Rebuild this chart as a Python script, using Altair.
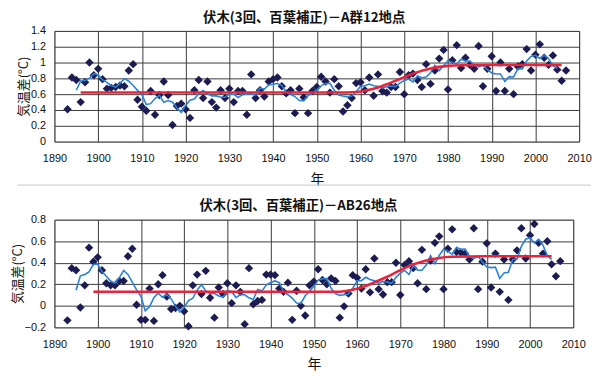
import altair as alt
import pandas as pd

years = list(range(1893, 2008))

vals_a = [0.41, 0.81, 0.78, 0.50, 0.75, 1.00, 0.84, 0.92, 0.79, 0.67,
          0.68, 0.69, 0.71, 0.70, 0.90, 0.98, 0.53, 0.44, 0.39, 0.64,
          0.34, 0.59, 0.76, 0.59, 0.21, 0.45, 0.48, 0.41, 0.30, 0.65,
          0.78, 0.55, 0.76, 0.50, 0.43, 0.65, 0.55, 0.67, 0.50, 0.64,
          0.64, 0.34, 0.85, 0.55, 0.65, 0.57, 0.76, 0.79, 0.81, 0.70,
          0.61, 0.65, 0.36, 0.67, 0.56, 0.36, 0.64, 0.69, 0.82, 0.76,
          0.62, 0.79, 0.70, 0.38, 0.46, 0.55, 0.74, 0.75, 0.65, 0.81,
          0.58, 0.85, 0.64, 0.62, 0.69, 0.69, 0.88, 0.60, 0.84, 0.86,
          0.78, 0.69, 0.98, 0.73, 0.90, 1.05, 1.16, 0.66, 1.03, 1.22,
          0.93, 1.06, 0.97, 0.92, 1.21, 0.70, 0.92, 1.08, 0.64, 1.00,
          0.64, 0.92, 0.60, 0.95, 0.98, 1.17, 0.90, 1.10, 1.23, 1.06,
          0.97, 1.09, 0.91, 0.77, 0.90]

vals_b = [-0.135, 0.35, 0.33, -0.015, 0.19, 0.54, 0.41, 0.45, 0.33, 0.21,
          0.19, 0.19, 0.23, 0.23, 0.46, 0.53, 0.01, -0.13, -0.13, 0.16,
          -0.14, 0.20, 0.285, 0.085, -0.03, -0.02, 0.00, -0.05, -0.19, 0.19,
          0.29, 0.11, 0.325, 0.075, -0.11, 0.17, 0.11, 0.21, 0.025, 0.19,
          0.13, -0.17, 0.35, 0.015, 0.045, 0.055, 0.29, 0.29, 0.285, 0.16,
          0.13, 0.215, -0.13, 0.14, 0.00, -0.09, 0.19, 0.225, 0.34, 0.24,
          0.20, 0.255, 0.23, -0.11, -0.005, 0.115, 0.285, 0.26, 0.16, 0.34,
          0.125, 0.44, 0.155, 0.105, 0.22, 0.22, 0.40, 0.10, 0.38, 0.415,
          0.35, 0.21, 0.52, 0.155, 0.42, 0.585, 0.645, 0.155, 0.53, 0.71,
          0.50, 0.495, 0.485, 0.43, 0.72, 0.155, 0.41, 0.58, 0.17, 0.485,
          0.13, 0.43, 0.055, 0.43, 0.515, 0.72, 0.44, 0.655, 0.76, 0.585,
          0.485, 0.60, 0.385, 0.275, 0.415]

trend_a_years = [1896, 1956, 1958, 1960, 1962, 1964, 1966, 1968, 1970, 1972,
                 1974, 1976, 1978, 1980, 1983, 1990, 2006]
trend_a_vals = [0.62, 0.62, 0.625, 0.635, 0.655, 0.685, 0.725, 0.77, 0.815, 0.86,
                0.895, 0.925, 0.945, 0.958, 0.966, 0.97, 0.97]

trend_b_years = [1899, 1955, 1957, 1959, 1961, 1963, 1965, 1967, 1969, 1971,
                 1973, 1975, 1977, 1979, 1982, 1990, 2005]
trend_b_vals = [0.13, 0.13, 0.135, 0.15, 0.17, 0.20, 0.235, 0.27, 0.31, 0.35,
                0.385, 0.41, 0.43, 0.445, 0.455, 0.46, 0.46]

title_a = "伏木(3回、百葉補正)－A群12地点"
title_b = "伏木(3回、百葉補正)－AB26地点"
y_title = "気温差(°C)"
x_title = "年"
x_ticks = list(range(1890, 2011, 10))
y_ticks_a = [0, 0.2, 0.4, 0.6, 0.8, 1.0, 1.2, 1.4]
y_ticks_b = [-0.2, 0, 0.2, 0.4, 0.6, 0.8]

JP = "Noto Sans CJK JP"
NUM = "Liberation Sans"
GRID = "#3a3a3a"


def panel(vals, tyears, tvals, title, ydomain, yticks, width, height, title_x, sep=False):
    df = pd.DataFrame({"year": years, "value": vals})
    tdf = pd.DataFrame({"year": tyears, "value": tvals})
    xscale = alt.Scale(domain=[1890, 2010], nice=False, zero=False)
    yscale = alt.Scale(domain=ydomain, nice=False, zero=False)
    xaxis = alt.Axis(values=x_ticks, format="d", title=x_title, grid=True,
                     gridColor=GRID, gridWidth=1, ticks=False, tickSize=0,
                     domain=False, labelPadding=11, titlePadding=9,
                     labelFlush=False, labelOverlap=False,
                     labelFont=NUM, labelFontSize=11, labelColor="#111",
                     titleFont=JP, titleFontSize=14, titleFontWeight="normal",
                     titleColor="#111")
    yaxis = alt.Axis(values=yticks, format="~g", title=y_title, grid=True,
                     gridColor=GRID, gridWidth=1, ticks=False, tickSize=0,
                     domain=False, labelPadding=9,
                     titleX=title_x, titleY=height / 2, titleAngle=270,
                     titleBaseline="middle", titleAlign="center",
                     labelFont=NUM, labelFontSize=11, labelColor="#111",
                     labelOverlap=False, labelFlush=False,
                     titleFont=JP, titleFontSize=13, titleFontWeight="normal",
                     titleColor="#111")
    base = alt.Chart(df)
    pts = base.mark_point(shape="diamond", filled=True, size=72, color="#1c1c52",
                          opacity=1).encode(
        x=alt.X("year:Q", scale=xscale, axis=xaxis),
        y=alt.Y("value:Q", scale=yscale, axis=yaxis))
    ma = base.transform_window(
        ma="mean(value)", n="count(value)", frame=[-2, 2], sort=[{"field": "year"}]
    ).transform_filter("datum.n == 5").mark_line(
        color="#2b80d8", strokeWidth=1.6).encode(
        x=alt.X("year:Q", scale=xscale, axis=xaxis),
        y=alt.Y("ma:Q", scale=yscale, axis=yaxis))
    tr = alt.Chart(tdf).mark_line(color="#e8243c", strokeWidth=2.6,
                                  interpolate="monotone").encode(
        x=alt.X("year:Q", scale=xscale, axis=xaxis),
        y=alt.Y("value:Q", scale=yscale, axis=yaxis))
    layers = [pts, ma, tr]
    if sep:
        rule = alt.Chart(pd.DataFrame({"a": [0]})).mark_rule(
            color="#c8c8c8", strokeWidth=1).encode(
            x=alt.value(title_x - 6), x2=alt.value(width + 12), y=alt.value(height + 44))
        layers.append(rule)
    return alt.layer(*layers).properties(
        width=width, height=height,
        title=alt.TitleParams(title, font=JP, fontSize=13.5, fontWeight="bold",
                              color="#111", anchor="middle", frame="bounds", offset=1))


top = panel(vals_a, trend_a_years, trend_a_vals, title_a, [0, 1.4], y_ticks_a,
            531, 112, -31.5, sep=True)
bottom = panel(vals_b, trend_b_years, trend_b_vals, title_b, [-0.2, 0.8], y_ticks_b,
               525, 109, -37.5)

chart = alt.ConcatChart(concat=[top, bottom], columns=1, spacing=12, align="none").properties(
    padding={"left": 3, "top": 0, "right": 0, "bottom": 0},
    background="white",
).configure_view(stroke="#9a9a9a", strokeWidth=1)

chart.save("out.html", embed_options={"renderer": "svg", "actions": False})
